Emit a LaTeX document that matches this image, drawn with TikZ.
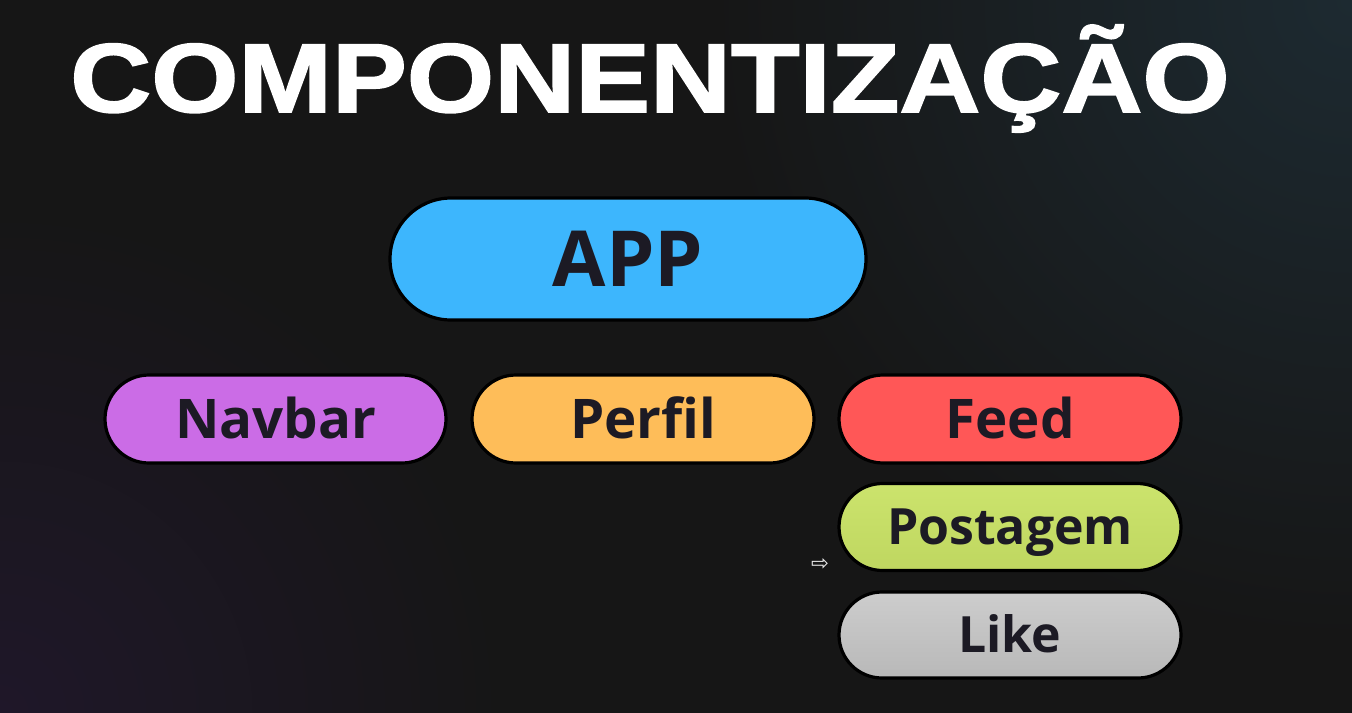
\documentclass[tikz,border=0pt]{standalone}
\usepackage{fontspec}
\usetikzlibrary{shapes.misc}
\newfontfamily\titlefont[FakeBold=1.6]{Liberation Sans Bold}
\newfontfamily\pillfont{Open Sans Bold}
\newfontfamily\symfont{DejaVu Sans}
\definecolor{bgc}{HTML}{161616}
\definecolor{glowteal}{HTML}{1D2A31}
\definecolor{glowpurple}{HTML}{1F1729}
\definecolor{appc}{HTML}{3DB6FD}
\definecolor{navc}{HTML}{CB6CE6}
\definecolor{perc}{HTML}{FEBD59}
\definecolor{feedc}{HTML}{FF5757}
\definecolor{postc}{HTML}{C9E265}
\definecolor{likec}{HTML}{C4C4C4}
\definecolor{txtc}{HTML}{1C1A24}
\pgfdeclareradialshading{tealglow}{\pgfpoint{0bp}{0bp}}{color(0bp)=(glowteal); color(20bp)=(bgc); color(50bp)=(bgc)}
\pgfdeclareradialshading{purpleglow}{\pgfpoint{0bp}{0bp}}{color(0bp)=(glowpurple); color(18bp)=(bgc); color(50bp)=(bgc)}
\tikzset{
  pill/.style={rounded rectangle, draw=black, line width=2.4pt, inner sep=0pt,
    text=txtc, font=\pillfont\fontsize{41}{41}\selectfont,
    text height=29.3pt, text depth=0pt},
  bigpill/.style={pill, font=\pillfont\fontsize{58}{58}\selectfont, text height=41.4pt},
  smallpill/.style={pill, font=\pillfont\fontsize{37.5}{37.5}\selectfont, text height=26.8pt}
}
\begin{document}
\begin{tikzpicture}[x=0.75pt,y=-0.75pt]
  \fill[bgc] (0,0) rectangle (1352,713);
  \useasboundingbox (0,0) rectangle (1352,713);
  \begin{scope}
    \clip (0,0) rectangle (1352,713);
    \shade[shading=tealglow] (552,-800) rectangle (2152,800);
    \shade[shading=purpleglow] (-700,13) rectangle (700,1413);
  \end{scope}
  \node[anchor=base west, inner sep=0pt, text=white,
        font=\titlefont\fontsize{73.5}{73.5}\selectfont] (title) at (70,112)
        {\scalebox{1.145}[1]{COMPONENTIZAÇÃO}};
  \node[bigpill, fill=appc, minimum width=476*0.75pt, minimum height=122*0.75pt] (app) at (628,259) {APP};
  \node[pill, fill=navc, minimum width=341*0.75pt, minimum height=88*0.75pt] (navbar) at (275.5,419) {Navbar};
  \node[pill, fill=perc, minimum width=342*0.75pt, minimum height=88*0.75pt] (perfil) at (643,419) {Perfil};
  \node[pill, fill=feedc, minimum width=342*0.75pt, minimum height=88*0.75pt] (feed) at (1010,419) {Feed};
  \node[smallpill, top color=postc!95!white, bottom color=postc!95!black, draw=black, minimum width=342*0.75pt, minimum height=87*0.75pt] (postagem) at (1010,527) {Postagem};
  \node[smallpill, top color=likec!85!white, bottom color=likec!94!black, draw=black, minimum width=342*0.75pt, minimum height=86*0.75pt] (like) at (1010,635) {Like};
  \node[inner sep=0pt, text=white!85!gray, font=\symfont\fontsize{16}{16}\selectfont] (cursor) at (820,565) {⇨};
\end{tikzpicture}
\end{document}
